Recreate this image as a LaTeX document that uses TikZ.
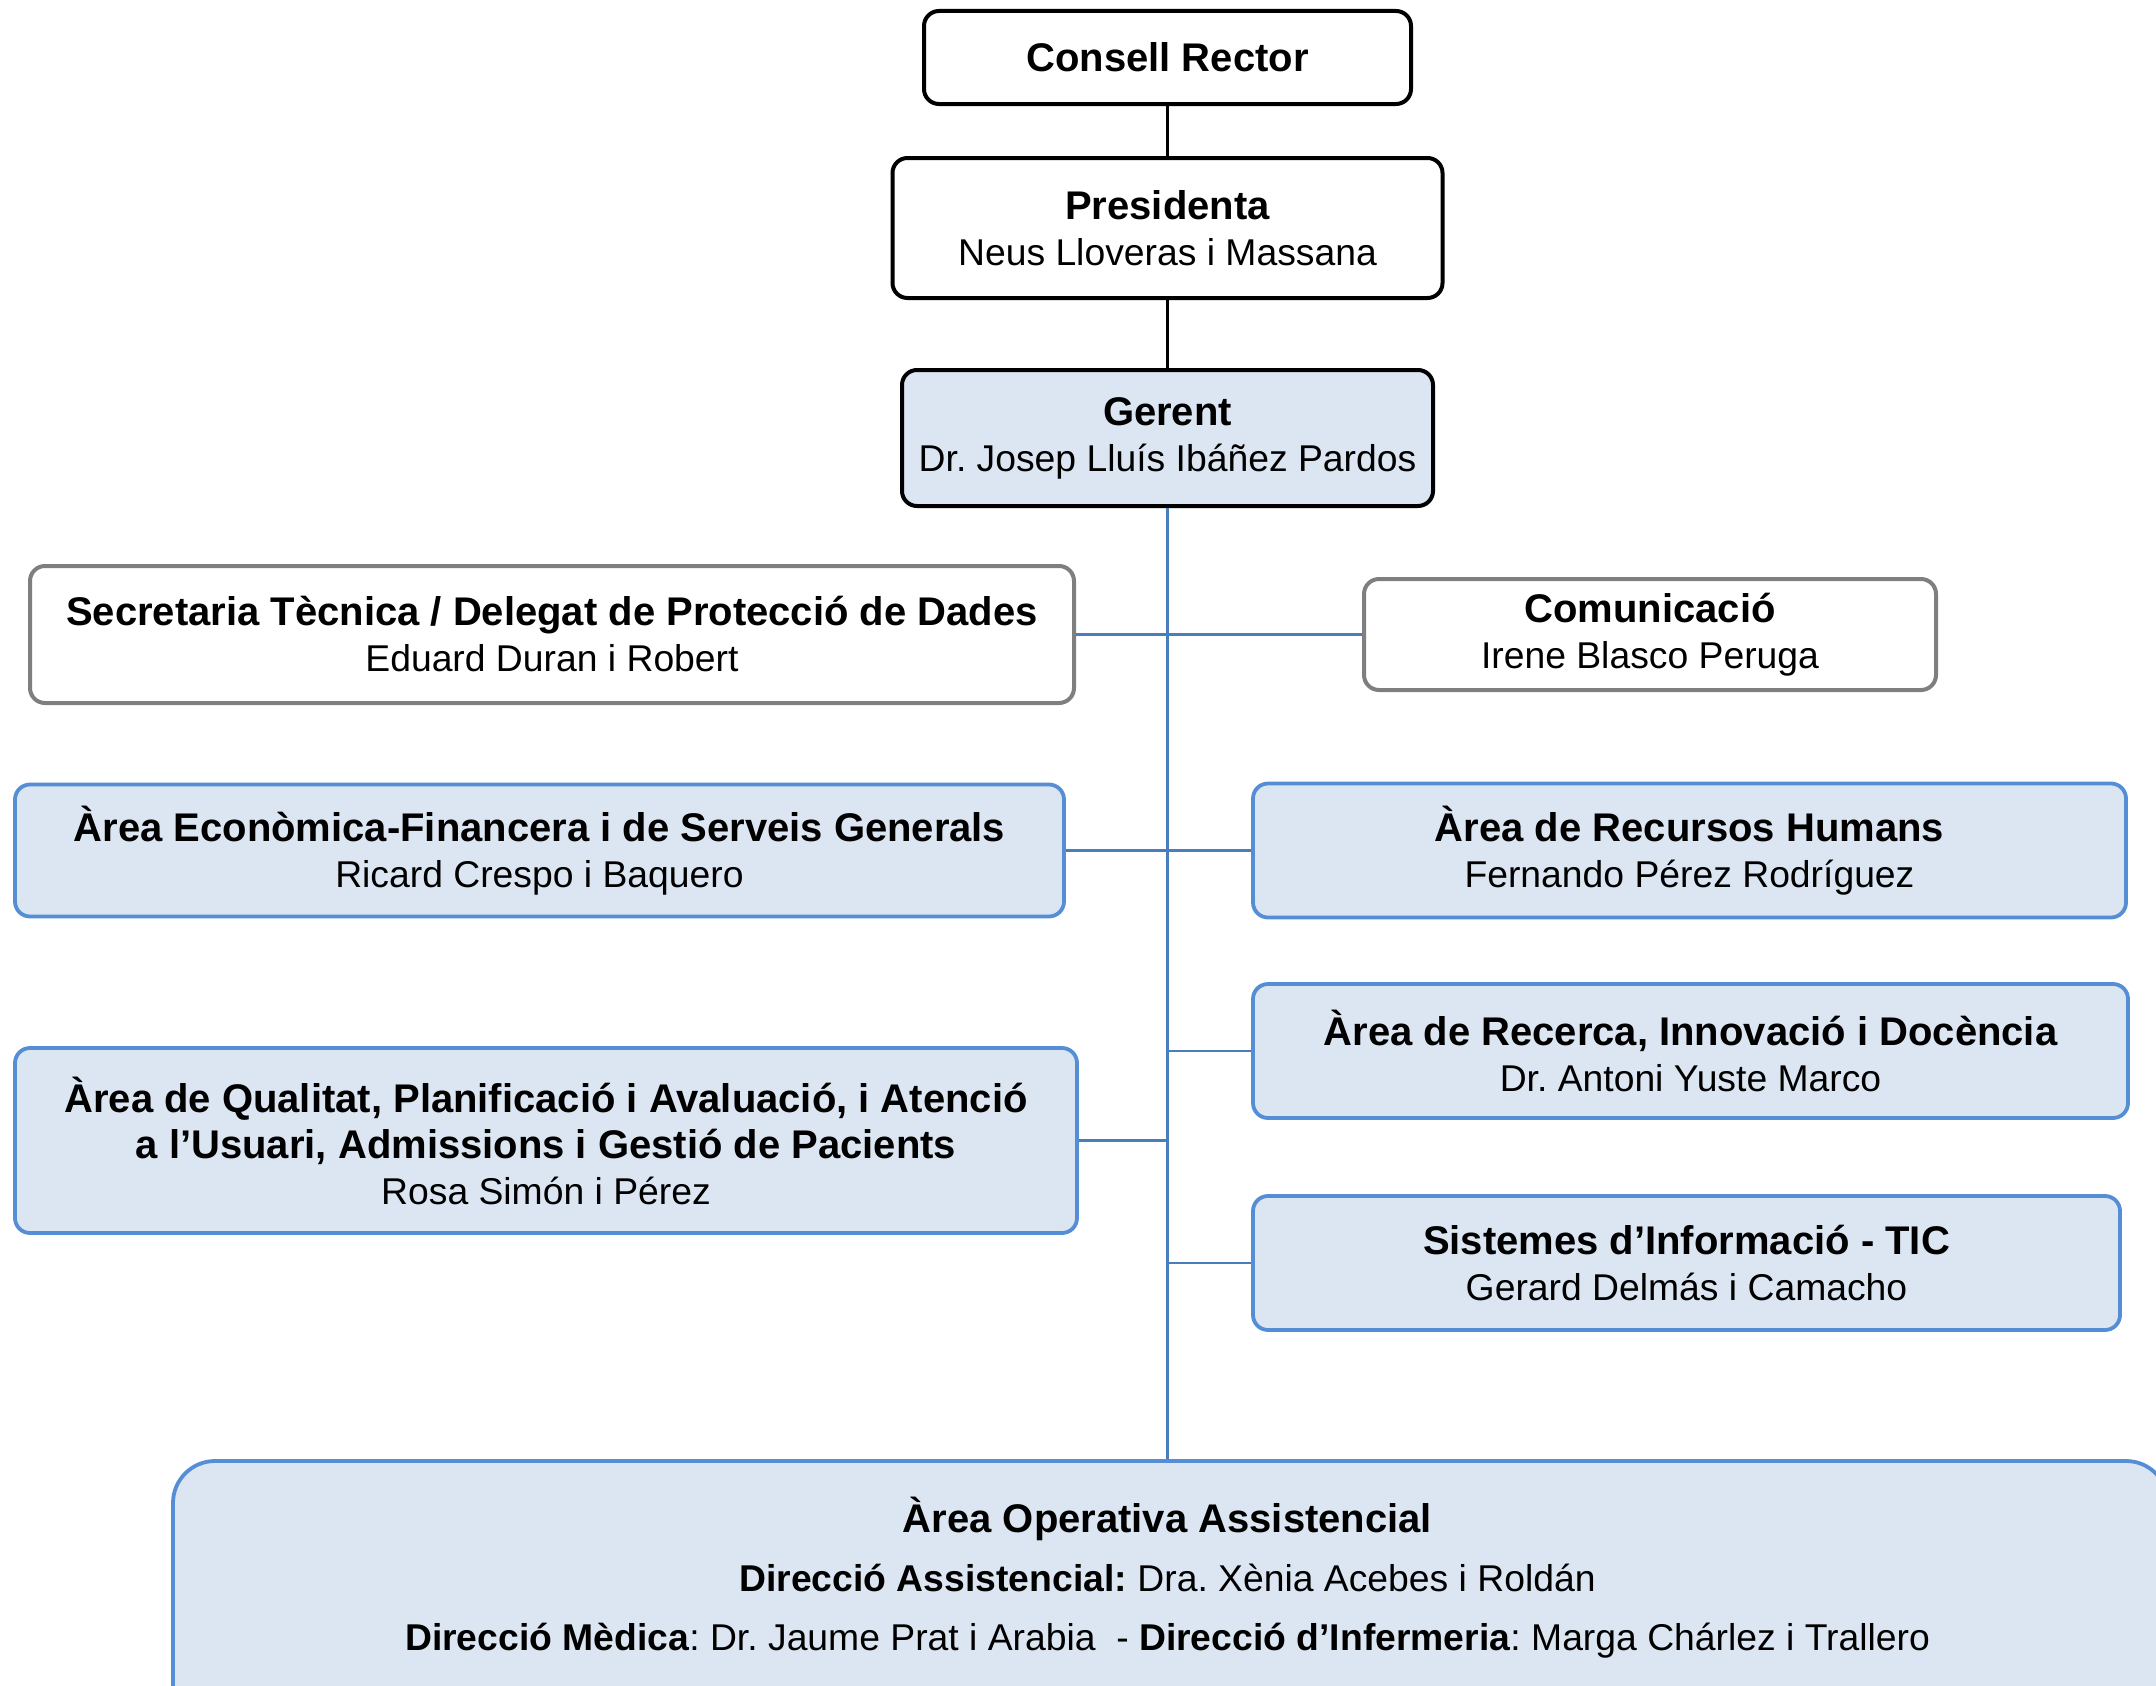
\documentclass[tikz,border=0pt]{standalone}
\usepackage{fontspec}
\setmainfont{Liberation Sans}
\definecolor{boxgray}{HTML}{7F7F7F}
\definecolor{boxblue}{HTML}{558ED5}
\definecolor{boxfill}{HTML}{DCE6F2}
\definecolor{lineblue}{HTML}{4A7EBB}
\newcommand\namefont{\frenchspacing\fontsize{37.3}{46}\selectfont}
\newcommand\orgtitle[1]{{\fontsize{40}{46}\selectfont\bfseries #1}}
\tikzset{
  box/.style={rectangle, rounded corners=15pt, align=center, inner sep=0pt, font=\namefont},
  blackbox/.style={box, draw=black, line width=4pt, fill=white},
  graybox/.style={box, draw=boxgray, line width=4pt, fill=white},
  bluebox/.style={box, draw=boxblue, line width=3.8pt, fill=boxfill},
  gerentbox/.style={box, draw=black, line width=4pt, fill=boxfill},
  blackline/.style={draw=black, line width=2.2pt},
  blueline/.style={draw=lineblue, line width=2.4pt},
}
\begin{document}
\frenchspacing
\begin{tikzpicture}[x=1pt, y=-1pt]
\useasboundingbox (0,0) rectangle (2156,1686);
\begin{scope}
\clip (0,0) rectangle (2156,1686);
% boxes
\node[blackbox, minimum width=487pt, minimum height=93pt] (consell) at (1167.5,57.5) {\orgtitle{Consell Rector}};
\node[blackbox, minimum width=550pt, minimum height=140pt] (presid) at (1167.5,228) {\orgtitle{Presidenta}\\Neus Lloveras i Massana};
\node[gerentbox, minimum width=531pt, minimum height=136pt] (gerent) at (1167.5,438) {\orgtitle{Gerent}\\Dr. Josep Lluís Ibáñez Pardos};
\node[graybox, minimum width=1044pt, minimum height=137pt] (secret) at (552,634.5) {\orgtitle{Secretaria Tècnica / Delegat de Protecció de Dades}\\Eduard Duran i Robert};
\node[graybox, minimum width=572pt, minimum height=111pt] (comun) at (1650,634.5) {\orgtitle{Comunicació}\\Irene Blasco Peruga};
\node[bluebox, minimum width=1049pt, minimum height=132pt] (econ) at (539.5,850.5) {\orgtitle{Àrea Econòmica-Financera i de Serveis Generals}\\Ricard Crespo i Baquero};
\node[bluebox, minimum width=873pt, minimum height=134pt] (rrhh) at (1689.5,850.5) {\orgtitle{Àrea de Recursos Humans}\\Fernando Pérez Rodríguez};
\node[bluebox, minimum width=875pt, minimum height=134pt] (recerca) at (1690.5,1051) {\orgtitle{Àrea de Recerca, Innovació i Docència}\\Dr. Antoni Yuste Marco};
\node[bluebox, minimum width=1062pt, minimum height=185pt] (qualitat) at (546,1140.5) {\orgtitle{Àrea de Qualitat, Planificació i Avaluació, i Atenció}\\\orgtitle{a l’Usuari, Admissions i Gestió de Pacients}\\Rosa Simón i Pérez};
\node[bluebox, minimum width=867pt, minimum height=134pt] (sistemes) at (1686.5,1263) {\orgtitle{Sistemes d’Informació - TIC}\\Gerard Delmás i Camacho};
\node[bluebox, rounded corners=42pt, minimum width=1995pt, minimum height=270pt] (oper) at (1170.5,1596) {};
\node[align=center, inner sep=0pt, font=\namefont] (opertext) at (1167.5,1578)
  {\orgtitle{Àrea Operativa Assistencial}\\[13pt]
   \textbf{Direcció Assistencial:} Dra. Xènia Acebes i Roldán\\[13pt]
   \textbf{Direcció Mèdica}: Dr. Jaume Prat i Arabia \ - \textbf{Direcció d’Infermeria}: Marga Chárlez i Trallero};
% connectors
\coordinate (trunkend) at (gerent.south |- oper.north);
\coordinate (jrec) at (gerent.south |- recerca.west);
\coordinate (jqual) at (gerent.south |- qualitat.east);
\coordinate (jsis) at (gerent.south |- sistemes.west);
\draw[blackline] (consell.south) -- (presid.north);
\draw[blackline] (presid.south) -- (gerent.north);
\draw[blueline] (gerent.south) -- (trunkend);
\draw[blueline] (secret.east) -- (comun.west);
\draw[blueline] (econ.east) -- (rrhh.west);
\draw[blueline] (jrec) -- (recerca.west);
\draw[blueline] (qualitat.east) -- (jqual);
\draw[blueline] (jsis) -- (sistemes.west);
\end{scope}
\end{tikzpicture}
\end{document}
